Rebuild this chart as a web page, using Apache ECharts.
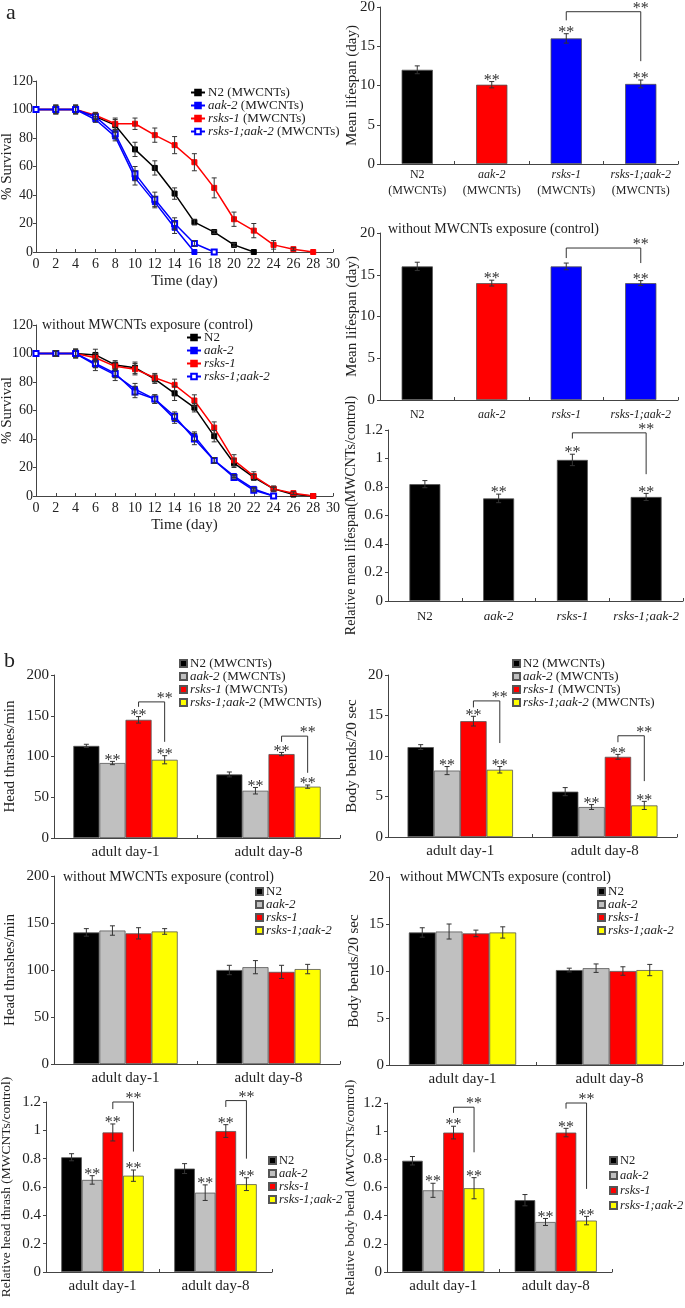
<!DOCTYPE html>
<html>
<head>
<meta charset="utf-8">
<script src="https://cdn.jsdelivr.net/npm/echarts@6/dist/echarts.min.js"></script>
<style>
html, body { margin: 0; padding: 0; background: #fff; }
#chart { width: 685px; height: 1308px; }
</style>
</head>
<body>
<div id="chart"></div>
<script>
const FONT = '"Liberation Serif", "DejaVu Serif", serif';
const INK = "#222";

// ---- survival curves (days 0,2,4,...) ----
const survDays = [0, 2, 4, 6, 8, 10, 12, 14, 16, 18, 20, 22, 24, 26, 28];

const mwN2 = [100, 100, 100, 95, 89, 72, 59, 41, 21, 14, 5, 0];
const mwN2Err = [0, 3, 3, 2, 4, 5, 5, 4, 2, 1, 1, 0];
const mwAak2 = [100, 100, 100, 93, 81, 52, 35, 17, 0];
const mwAak2Err = [0, 3, 3, 2, 3, 5, 4, 4, 0];
const mwRsks1 = [100, 100, 100, 96, 90, 90, 82, 75, 63, 45, 23, 15, 5, 2, 0];
const mwRsks1Err = [0, 3, 3, 2, 4, 4, 5, 6, 6, 7, 5, 5, 3, 1, 0];
const mwDouble = [100, 100, 100, 95, 83, 55, 37, 20, 6, 0];
const mwDoubleErr = [0, 3, 3, 2, 3, 5, 5, 4, 2, 0];

const ctN2 = [100, 100, 100, 99, 92, 90, 82, 72, 62, 42, 23, 13, 5, 1, 0];
const ctN2Err = [0, 2, 3, 4, 3, 4, 3, 5, 3, 4, 3, 2, 1, 0, 0];
const ctAak2 = [100, 100, 100, 92, 85, 75, 68, 54, 42, 25, 14, 5, 0];
const ctAak2Err = [0, 2, 3, 4, 4, 4, 3, 3, 3, 2, 1, 1, 0];
const ctRsks1 = [100, 100, 100, 97, 91, 89, 83, 78, 67, 48, 25, 14, 5, 2, 0];
const ctRsks1Err = [0, 2, 3, 3, 3, 4, 3, 4, 4, 4, 4, 3, 2, 1, 0];
const ctDouble = [100, 100, 100, 93, 86, 73, 68, 56, 40, 25, 13, 4, 0];
const ctDoubleErr = [0, 2, 3, 3, 3, 4, 3, 3, 4, 2, 1, 1, 0];

// ---- mean lifespan ----
const genes = ["N2", "aak-2", "rsks-1", "rsks-1;aak-2"];
const meanMW = [12.0, 10.1, 16.0, 10.2];
const meanMWErr = [0.5, 0.4, 0.6, 0.5];
const meanMWStars = [0, 1, 1, 1];
const meanCt = [16.0, 14.0, 16.0, 14.0];
const meanCtErr = [0.5, 0.35, 0.4, 0.3];
const meanCtStars = [0, 1, 0, 1];
const relMean = [0.82, 0.72, 0.99, 0.73];
const relMeanErr = [0.025, 0.03, 0.04, 0.025];
const relMeanStars = [0, 1, 1, 1];

// ---- locomotion (per genotype: [day-1, day-8]) ----
const ages = ["adult day-1", "adult day-8"];
const htMW = [[113, 78], [92, 58], [145, 103], [96, 63]];
const htMWErr = [[2, 3], [2, 4], [4, 2], [5, 2]];
const bbMW = [[11.1, 5.6], [8.2, 3.7], [14.3, 9.9], [8.3, 3.9]];
const bbMWErr = [[0.3, 0.5], [0.5, 0.3], [0.6, 0.3], [0.4, 0.5]];
const htCt = [[140, 100], [142, 103], [139, 98], [141, 101]];
const htCtErr = [[4, 5], [5, 7], [6, 7], [3, 5]];
const bbCt = [[14.1, 10.1], [14.2, 10.3], [14.0, 10.0], [14.1, 10.1]];
const bbCtErr = [[0.5, 0.2], [0.8, 0.45], [0.35, 0.45], [0.6, 0.6]];
const relHT = [[0.81, 0.73], [0.65, 0.56], [0.985, 0.995], [0.68, 0.62]];
const relHTErr = [[0.025, 0.035], [0.03, 0.055], [0.06, 0.045], [0.04, 0.045]];
const relBB = [[0.79, 0.51], [0.58, 0.355], [0.99, 0.99], [0.595, 0.365]];
const relBBErr = [[0.03, 0.04], [0.05, 0.025], [0.045, 0.03], [0.075, 0.03]];
const sigStars = [[0, 0], [1, 1], [1, 1], [1, 1]];
const noStars = [[0, 0], [0, 0], [0, 0], [0, 0]];

// brackets: [catA, slotA, catB, slotB, top, leftEnd, rightEnd]
const meanMWBr = [[2, 0, 3, 0, 19.4, 18.3, 13.1]];
const meanCtBr = [[2, 0, 3, 0, 18.2, 17.0, 16.4]];
const relMeanBr = [[2, 0, 3, 0, 1.18, 1.14, 0.89]];
const htMWBr = [[0, 2, 0, 3, 167, 161, 118], [1, 2, 1, 3, 125, 118, 80]];
const bbMWBr = [[0, 2, 0, 3, 16.8, 16.0, 11.6], [1, 2, 1, 3, 12.5, 11.7, 6.9]];
const relHTBr = [[0, 2, 0, 3, 1.2, 1.15, 0.85], [1, 2, 1, 3, 1.21, 1.165, 0.80]];
const relBBBr = [[0, 2, 0, 3, 1.17, 1.13, 0.85], [1, 2, 1, 3, 1.2, 1.16, 0.59]];

const barColors = ["#000000", "#c0c0c0", "#ff0000", "#ffff00"];
const meanColors = ["#000000", "#ff0000", "#0000ff", "#0000ff"];
const relColors = ["#000000", "#000000", "#000000", "#000000"];

const grids = [
  { left: 36, top: 81, width: 297, height: 171 },
  { left: 36, top: 325, width: 297, height: 171 },
  { left: 380, top: 7, width: 298, height: 157 },
  { left: 380, top: 233, width: 298, height: 167 },
  { left: 388, top: 430, width: 295, height: 171 },
  { left: 54, top: 675, width: 286, height: 163 },
  { left: 388, top: 675, width: 289, height: 162 },
  { left: 54, top: 876, width: 286, height: 188 },
  { left: 389, top: 877, width: 294, height: 188 },
  { left: 46, top: 1102, width: 226, height: 170 },
  { left: 387, top: 1103, width: 225, height: 169 }
].map((g) => Object.assign({ outerBoundsMode: "none", containLabel: false }, g));

function ital(s){
  return s.replace(/(rsks-1;aak-2|rsks-1|aak-2)/, "{i|$1}");
}
const richI = (size) => ({ i: { fontStyle: "italic", fontFamily: FONT, fontSize: size, color: INK } });

function valAxis(grid, min, max, interval, name, nameGap, opts = {}){
  return {
    type: "value", gridIndex: grid, min, max, interval,
    name, nameLocation: "middle", nameRotate: 90, nameGap, nameMoveOverlap: false,
    nameTextStyle: { fontFamily: FONT, fontSize: opts.nameSize || 15, color: INK },
    axisLine: { show: true, lineStyle: { color: "#444", width: 1 } },
    axisTick: { show: true, inside: false, length: 3, lineStyle: { color: "#444" } },
    axisLabel: { fontFamily: FONT, fontSize: opts.labelSize || 15, color: INK, margin: opts.margin || 5 },
    splitLine: { show: false }
  };
}

function catAxis(grid, data, size, formatter, margin){
  return {
    type: "category", gridIndex: grid, data,
    axisLine: { lineStyle: { color: "#444", width: 1 } },
    axisTick: { show: true, inside: true, length: 3, lineStyle: { color: "#444" } },
    axisLabel: { interval: 0, fontFamily: FONT, fontSize: size, color: INK, margin, formatter, rich: richI(size), lineHeight: 16 },
    splitLine: { show: false }
  };
}

function errShape(x, yt, yb, c){
  const st = { stroke: "#333", lineWidth: 1 };
  return [
    { type: "line", shape: { x1: x, y1: yt, x2: x, y2: yb }, style: st },
    { type: "line", shape: { x1: x - c, y1: yt, x2: x + c, y2: yt }, style: st },
    { type: "line", shape: { x1: x - c, y1: yb, x2: x + c, y2: yb }, style: st }
  ];
}

function starText(x, y){
  return {
    type: "text", x, y,
    style: { text: "**", align: "center", verticalAlign: "bottom", textAlign: "center", textVerticalAlign: "bottom", font: "16px " + FONT, fill: "#333" }
  };
}

function lineErrItem(params, api){
  const x = api.value(0), y = api.value(1), e = api.value(2);
  if(!e) return null;
  const t = api.coord([x, y + e]);
  const b = api.coord([x, y - e]);
  return { type: "group", children: errShape(t[0], t[1], b[1], 2.5) };
}

function survLines(grid, key, label, vals, errs, color, symbol){
  const name = key + "|" + label;
  return [
    {
      type: "line", name, xAxisIndex: grid, yAxisIndex: grid,
      data: vals.map((v, i) => [survDays[i], v]),
      symbol, symbolSize: 5, color,
      lineStyle: { width: 1.5, color },
      itemStyle: { color, borderColor: color, borderWidth: 1 },
      z: 3
    },
    {
      type: "custom", xAxisIndex: grid, yAxisIndex: grid,
      data: vals.map((v, i) => [survDays[i], v, errs[i]]),
      renderItem: lineErrItem, z: 4
    }
  ];
}

function slotX(api, cat, slot, n, gap){
  const catW = api.size([1, 0])[0];
  const barW = catW * (1 - gap) / n;
  return api.coord([cat, 0])[0] - n * barW / 2 + (slot + 0.5) * barW;
}

function barErr(n, k, gap){
  return function(params, api){
    const cat = api.value(0), v = api.value(1), e = api.value(2), star = api.value(3);
    const x = slotX(api, cat, k, n, gap);
    const yt = api.coord([cat, v + e])[1];
    const yb = api.coord([cat, v - e])[1];
    const children = errShape(x, yt, yb, 2.5);
    if(star) children.push(starText(x, yt + 7));
    return { type: "group", children };
  };
}

function bracket(grid, n, gap, data){
  return {
    type: "custom", xAxisIndex: grid, yAxisIndex: grid, z: 5, data,
    renderItem(params, api){
      const xa = slotX(api, api.value(0), api.value(1), n, gap);
      const xb = slotX(api, api.value(2), api.value(3), n, gap);
      const yt = api.coord([0, api.value(4)])[1];
      const yl = api.coord([0, api.value(5)])[1];
      const yr = api.coord([0, api.value(6)])[1];
      return {
        type: "group",
        children: [
          { type: "polyline", shape: { points: [[xa, yl], [xa, yt], [xb, yt], [xb, yr]] }, style: { stroke: "#333", fill: null, lineWidth: 1 } },
          starText(xb, yt + 5)
        ]
      };
    }
  };
}

function groupBars(grid, key, suffix, values, errs, stars, gap){
  const out = [];
  values.forEach((vals, k) => {
    out.push({
      type: "bar", name: key + "|" + genes[k] + suffix, xAxisIndex: grid, yAxisIndex: grid,
      data: vals, barGap: "0%", barCategoryGap: (gap * 100) + "%",
      itemStyle: { color: barColors[k], borderColor: "#555", borderWidth: 0.8 }
    });
  });
  values.forEach((vals, k) => {
    out.push({
      type: "custom", xAxisIndex: grid, yAxisIndex: grid, z: 4,
      data: vals.map((v, i) => [i, v, errs[k][i], stars[k][i]]),
      renderItem: barErr(4, k, gap)
    });
  });
  return out;
}

function singleBars(grid, key, vals, errs, stars, colors, gap){
  return [
    {
      type: "bar", name: key, xAxisIndex: grid, yAxisIndex: grid,
      data: vals.map((v, i) => ({ value: v, itemStyle: { color: colors[i] } })),
      barCategoryGap: (gap * 100) + "%",
      itemStyle: { borderColor: "#555", borderWidth: 0.8 }
    },
    {
      type: "custom", xAxisIndex: grid, yAxisIndex: grid, z: 4,
      data: vals.map((v, i) => [i, v, errs[i], stars[i]]),
      renderItem: barErr(1, 0, gap)
    }
  ];
}

function legend(key, labels, left, top, opts = {}){
  const size = opts.size || 13;
  return {
    orient: "vertical", left, top, padding: 0,
    itemGap: opts.gap != null ? opts.gap : 0,
    itemWidth: opts.w || 14, itemHeight: opts.h || 7,
    icon: opts.icon, selectedMode: false,
    data: labels.map((l) => key + "|" + l),
    formatter: (name) => ital(name.split("|")[1]),
    textStyle: { fontFamily: FONT, fontSize: size, color: INK, lineHeight: opts.lh || 12, padding: [0, 0, 0, -2], rich: richI(size) }
  };
}

const mwLabels = genes.map((g) => g + " (MWCNTs)");
const ctLabels = genes.slice();

const GAP4 = 0.27;
const GAP1 = 0.58;

const titleStyle = (size) => ({ fontFamily: FONT, fontSize: size, fontWeight: "normal", color: INK });
const xTickIn = { show: true, inside: true, length: 3, lineStyle: { color: "#444" } };

const option = {
  animation: false,
  backgroundColor: "#fff",
  textStyle: { fontFamily: FONT },
  title: [
    { text: "a", left: 6, top: 2, padding: 0, textStyle: titleStyle(22) },
    { text: "b", left: 4, top: 650, padding: 0, textStyle: titleStyle(22) },
    { text: "without MWCNTs exposure (control)", left: 42, top: 318, padding: 0, textStyle: titleStyle(14) },
    { text: "without MWCNTs exposure (control)", left: 388, top: 222, padding: 0, textStyle: titleStyle(14) },
    { text: "without MWCNTs exposure (control)", left: 63, top: 870, padding: 0, textStyle: titleStyle(14) },
    { text: "without MWCNTs exposure (control)", left: 400, top: 870, padding: 0, textStyle: titleStyle(14) }
  ],
  grid: grids,
  xAxis: [
    Object.assign(valAxis(0, 0, 30, 2, "Time (day)", 22, { labelSize: 14 }), { nameRotate: 0, axisTick: xTickIn }),
    Object.assign(valAxis(1, 0, 30, 2, "Time (day)", 22, { labelSize: 14 }), { nameRotate: 0, axisTick: xTickIn }),
    catAxis(2, genes, 12, (v) => ital(v) + "\n(MWCNTs)", 3),
    catAxis(3, genes, 12, (v) => ital(v), 7),
    catAxis(4, genes, 13, (v) => ital(v), 8),
    catAxis(5, ages, 15, null, 6),
    catAxis(6, ages, 15, null, 6),
    catAxis(7, ages, 15, null, 6),
    catAxis(8, ages, 15, null, 6),
    catAxis(9, ages, 15, null, 6),
    catAxis(10, ages, 15, null, 6)
  ],
  yAxis: [
    valAxis(0, 0, 120, 20, "% Survival", 21, { labelSize: 14, margin: 3 }),
    valAxis(1, 0, 120, 20, "% Survival", 21, { labelSize: 14, margin: 3 }),
    valAxis(2, 0, 20, 5, "Mean lifespan (day)", 20),
    valAxis(3, 0, 20, 5, "Mean lifespan (day)", 20),
    valAxis(4, 0, 1.2, 0.2, "Relative mean lifespan(MWCNTs/control)", 30, { nameSize: 14 }),
    valAxis(5, 0, 200, 50, "Head thrashes/min", 36),
    valAxis(6, 0, 20, 5, "Body bends/20 sec", 28),
    valAxis(7, 0, 200, 50, "Head thrashes/min", 36),
    valAxis(8, 0, 20, 5, "Body bends/20 sec", 27),
    valAxis(9, 0, 1.2, 0.2, "Relative head thrash (MWCNTs/control)", 33, { nameSize: 13.5 }),
    valAxis(10, 0, 1.2, 0.2, "Relative body bend (MWCNTs/control)", 30, { nameSize: 13.5 })
  ],
  legend: [
    legend("p1", mwLabels, 190, 86, { lh: 12 }),
    legend("p2", ctLabels, 186, 331, { lh: 12 }),
    legend("p6", mwLabels, 179, 657, { icon: "rect", w: 7, h: 7, lh: 12 }),
    legend("p7", mwLabels, 512, 657, { icon: "rect", w: 7, h: 7, lh: 12 }),
    legend("p8", ctLabels, 255, 885, { icon: "rect", w: 7, h: 7, lh: 12 }),
    legend("p9", ctLabels, 597, 885, { icon: "rect", w: 7, h: 7, lh: 12 }),
    legend("p10", ctLabels, 268, 1154, { icon: "rect", w: 7, h: 7, lh: 11, size: 12.5 }),
    legend("p11", ctLabels, 609, 1154, { icon: "rect", w: 7, h: 7, lh: 11, gap: 2, size: 12.5 })
  ],
  series: [
    ...survLines(0, "p1", mwLabels[0], mwN2, mwN2Err, "#000000", "rect"),
    ...survLines(0, "p1", mwLabels[1], mwAak2, mwAak2Err, "#0000ff", "rect"),
    ...survLines(0, "p1", mwLabels[2], mwRsks1, mwRsks1Err, "#ff0000", "rect"),
    ...survLines(0, "p1", mwLabels[3], mwDouble, mwDoubleErr, "#0000ff", "emptyRect"),
    ...survLines(1, "p2", ctLabels[0], ctN2, ctN2Err, "#000000", "rect"),
    ...survLines(1, "p2", ctLabels[1], ctAak2, ctAak2Err, "#0000ff", "rect"),
    ...survLines(1, "p2", ctLabels[2], ctRsks1, ctRsks1Err, "#ff0000", "rect"),
    ...survLines(1, "p2", ctLabels[3], ctDouble, ctDoubleErr, "#0000ff", "emptyRect"),
    ...singleBars(2, "meanMW", meanMW, meanMWErr, meanMWStars, meanColors, GAP1),
    bracket(2, 1, GAP1, meanMWBr),
    ...singleBars(3, "meanCt", meanCt, meanCtErr, meanCtStars, meanColors, GAP1),
    bracket(3, 1, GAP1, meanCtBr),
    ...singleBars(4, "relMean", relMean, relMeanErr, relMeanStars, relColors, GAP1),
    bracket(4, 1, GAP1, relMeanBr),
    ...groupBars(5, "p6", " (MWCNTs)", htMW, htMWErr, sigStars, GAP4),
    bracket(5, 4, GAP4, htMWBr),
    ...groupBars(6, "p7", " (MWCNTs)", bbMW, bbMWErr, sigStars, GAP4),
    bracket(6, 4, GAP4, bbMWBr),
    ...groupBars(7, "p8", "", htCt, htCtErr, noStars, GAP4),
    ...groupBars(8, "p9", "", bbCt, bbCtErr, noStars, GAP4),
    ...groupBars(9, "p10", "", relHT, relHTErr, sigStars, GAP4),
    bracket(9, 4, GAP4, relHTBr),
    ...groupBars(10, "p11", "", relBB, relBBErr, sigStars, GAP4),
    bracket(10, 4, GAP4, relBBBr)
  ]
};

const chart = echarts.init(document.getElementById("chart"), null, { renderer: "canvas" });
chart.setOption(option);
</script>
</body>
</html>
